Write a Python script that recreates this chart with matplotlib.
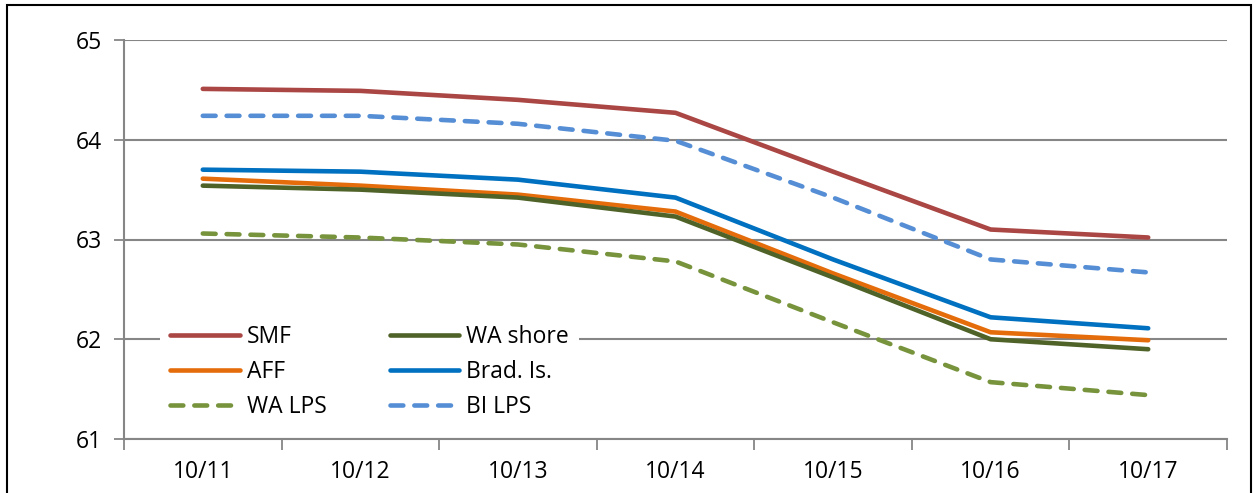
import matplotlib.pyplot as plt
from matplotlib.patches import Rectangle
import numpy as np

plt.rcParams['font.family'] = ['Open Sans', 'DejaVu Sans']

dates = ['10/11', '10/12', '10/13', '10/14', '10/15', '10/16', '10/17']
smf = [64.51, 64.49, 64.40, 64.27, 63.68, 63.10, 63.02]
aff = [63.61, 63.54, 63.45, 63.28, 62.66, 62.07, 61.99]
wa_lps = [63.06, 63.02, 62.95, 62.78, 62.17, 61.57, 61.44]
wa_shore = [63.54, 63.50, 63.42, 63.23, 62.62, 62.00, 61.90]
brad_is = [63.70, 63.68, 63.60, 63.42, 62.80, 62.22, 62.11]
bi_lps = [64.24, 64.24, 64.16, 63.99, 63.42, 62.80, 62.67]

fig = plt.figure(figsize=(12.56, 4.93), dpi=100)
ax = fig.add_axes([124/1256, 1-439/493, (1227-124)/1256, (439-40)/493])

x = np.arange(len(dates))
lw = 3.3
dash = (0, (2.8, 2.4))
ax.plot(x, smf, color='#AA4643', lw=lw, label='SMF', solid_capstyle='round')
ax.plot(x, aff, color='#E46C0A', lw=lw, label='AFF', solid_capstyle='round')
ax.plot(x, wa_lps, color='#77933C', lw=lw, ls=dash, dash_capstyle='round', label='WA LPS')
ax.plot(x, wa_shore, color='#4F6228', lw=lw, label='WA shore', solid_capstyle='round')
ax.plot(x, brad_is, color='#0070C0', lw=lw, label='Brad. Is.', solid_capstyle='round')
ax.plot(x, bi_lps, color='#558ED5', lw=lw, ls=dash, dash_capstyle='round', label='BI LPS')

ax.set_xlim(-0.5, 6.5)
ax.set_ylim(61, 65)
ax.set_yticks([61, 62, 63, 64, 65])
ax.set_xticks(x)
ax.set_xticklabels(dates)
ax.set_xticks(np.arange(-0.5, 7, 1), minor=True)
ax.tick_params(axis='x', which='major', length=0, labelsize=16.5, pad=15)
ax.tick_params(axis='x', which='minor', length=8, width=1.3, color='#868686', direction='out')
ax.tick_params(axis='y', length=7, width=1.3, color='#868686', labelsize=16.5, pad=9)
ax.grid(axis='y', color='#868686', lw=1.5)
ax.set_axisbelow(True)
for s in ['top', 'right']:
    ax.spines[s].set_visible(False)
for s in ['left', 'bottom']:
    ax.spines[s].set_color('#868686')
    ax.spines[s].set_linewidth(1.5)

leg = ax.legend(ncol=2, loc='center left', bbox_to_anchor=(0.022, 0.168), fontsize=16.5,
                frameon=True, framealpha=1, edgecolor='none', fancybox=False,
                handlelength=3.05, handletextpad=0.3, columnspacing=2.75, labelspacing=0.48,
                borderpad=0.45)

fig.patches.append(Rectangle((7/1256, -0.01), (1251-7)/1256, 1.0 - 5/493 + 0.01,
                             transform=fig.transFigure, fill=False, edgecolor='black', lw=1.5))

fig.savefig('out.png', dpi=100)
